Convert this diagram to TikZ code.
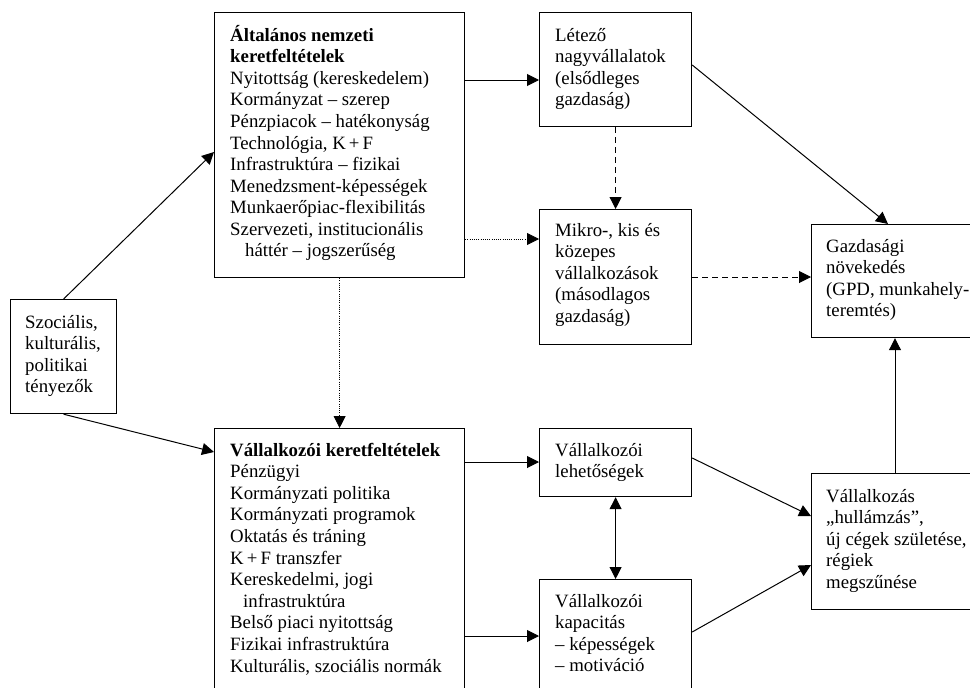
\documentclass[tikz,border=0pt]{standalone}
\usepackage{fontspec}
\setmainfont{Liberation Serif}
\usetikzlibrary{arrows.meta}
\tikzset{
  box/.style={draw, line width=1.2pt, inner sep=0pt, anchor=north west},
  txt/.style={anchor=base west, inner sep=0pt, font=\fontsize{18.8}{21.6}\selectfont},
  tip/.tip={Triangle[length=12pt,width=12pt]},
  con/.style={line width=1pt, -tip},
  condash/.style={con, dash pattern=on 6pt off 4pt},
  condot/.style={con, line width=0.8pt, dash pattern=on 1pt off 1.2pt},
}
\newcommand{\mybox}[5]{\node[box, minimum width=#4pt, minimum height=#5pt] (#1) at (#2,#3) {};}
\newcommand{\lines}[2]{\parbox[t]{#1pt}{\raggedright #2}}
\begin{document}
\begin{tikzpicture}[x=1pt,y=-1pt]
\useasboundingbox (0,0) rectangle (970,688);
\clip (0,0) rectangle (970,688);
% boxes
\mybox{soc}{10}{299}{106}{114}
\mybox{gen}{214}{12}{250}{265}
\mybox{ent}{214}{428}{250}{265}
\mybox{let}{539}{12}{152}{114}
\mybox{mik}{539}{209}{152}{135}
\mybox{gaz}{811}{224}{180}{113}
\mybox{leh}{539}{428}{152}{68}
\mybox{kap}{539}{579}{152}{114}
\mybox{hul}{811}{473}{180}{136}
% texts
\node[txt] (tsoc) at (25,328) {\lines{100}{Szociális,\\kulturális,\\politikai\\tényezők}};
\node[txt] (tgen) at (230,41) {\lines{240}{\textbf{Általános nemzeti}\\\textbf{keretfeltételek}\\Nyitottság (kereskedelem)\\Kormányzat – szerep\\Pénzpiacok – hatékonyság\\Technológia, K\,+\,F\\Infrastruktúra – fizikai\\Menedzsment-képességek\\Munkaerőpiac-flexibilitás\\Szervezeti, institucionális\\\hspace*{15pt}háttér – jogszerűség}};
\node[txt] (tent) at (230,456) {\lines{240}{\textbf{Vállalkozói keretfeltételek}\\Pénzügyi\\Kormányzati politika\\Kormányzati programok\\Oktatás és tráning\\K\,+\,F transzfer\\Kereskedelmi, jogi\\\hspace*{13pt}infrastruktúra\\Belső piaci nyitottság\\Fizikai infrastruktúra\\Kulturális, szociális normák}};
\node[txt] (tlet) at (555,41) {\lines{140}{Létező\\nagyvállalatok\\(elsődleges\\gazdaság)}};
\node[txt] (tmik) at (555,236) {\lines{140}{Mikro-, kis és\\közepes\\vállalkozások\\(másodlagos\\gazdaság)}};
\node[txt] (tgaz) at (826,252) {\lines{170}{Gazdasági\\növekedés\\(GPD, munkahely-\\teremtés)}};
\node[txt] (tleh) at (555,456) {\lines{140}{Vállalkozói\\lehetőségek}};
\node[txt] (tkap) at (555,607) {\lines{140}{Vállalkozói\\kapacitás\\– képességek\\– motiváció}};
\node[txt] (thul) at (826,502) {\lines{170}{Vállalkozás\\„hullámzás”,\\új cégek születése,\\régiek\\megszűnése}};
% connectors
\draw[con] (soc.north) -- (gen.west |- 0,152);
\draw[con] (soc.south) -- (ent.west |- 0,452);
\draw[con] (gen.east |- 0,80) -- (let.west |- 0,80);
\draw[condot] (gen.east |- 0,239) -- (mik.west |- 0,239);
\draw[condot] (gen.south) -- (ent.north);
\draw[condash] (let.south) -- (mik.north);
\draw[con] (let.east |- 0,65) -- (gaz.north -| 888,0);
\draw[condash] (mik.east |- 0,277) -- (gaz.west |- 0,277);
\draw[con] (hul.north -| 895,0) -- (gaz.south -| 895,0);
\draw[con] (ent.east |- 0,462) -- (leh.west |- 0,462);
\draw[con] (ent.east |- 0,636) -- (kap.west |- 0,636);
\draw[con, tip-tip] (leh.south) -- (kap.north);
\draw[con] (leh.east |- 0,458) -- (hul.west |- 0,516);
\draw[con] (kap.east |- 0,632) -- (hul.west |- 0,565);
\end{tikzpicture}
\end{document}
